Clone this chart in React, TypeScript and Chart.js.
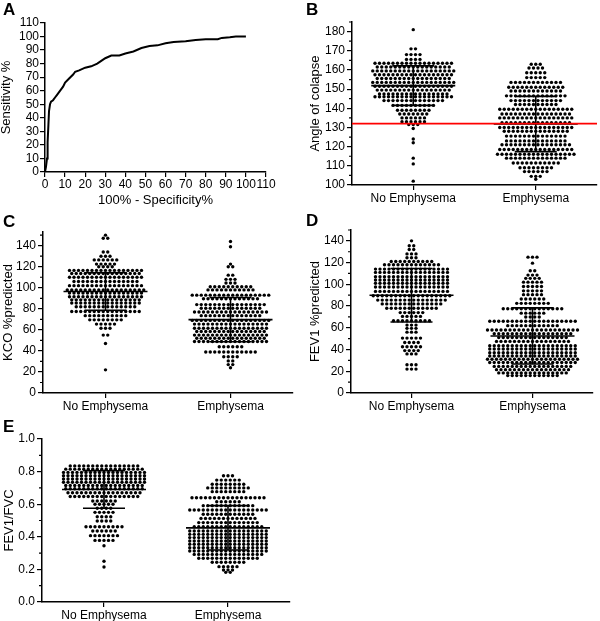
import React, { useEffect, useRef } from 'react';
import { Chart, registerables } from 'chart.js';
Chart.register(...registerables);

const FONT = "'Liberation Sans', Arial, Helvetica, sans-serif";

// ---------- Panel A: ROC curve ----------
const ROC_X = [0, 0.5, 1, 1.3, 1.7, 2, 2.5, 3, 4, 5, 6, 7, 8, 9, 10, 12, 14, 15, 17, 20, 23, 26, 28, 30, 33, 37, 40, 44, 48, 52, 56, 60, 64, 70, 75, 80, 86, 88, 92, 95, 100];
const ROC_Y = [0, 4, 10, 22, 35, 45, 50, 52, 53, 55, 57, 59, 61, 63, 66, 69, 72, 74, 75, 77, 78, 80, 82, 84, 86, 86, 87.5, 89, 91.5, 93, 93.5, 95, 96, 96.5, 97.5, 98, 98, 99, 99.5, 100, 100];
const ROC_TICKS = [0, 10, 20, 30, 40, 50, 60, 70, 80, 90, 100, 110];

// ---------- Categories ----------
const GROUPS = ['No Emphysema', 'Emphysema'];
const CAT_POS = [1, 3];

// ---------- Panel B: Angle of collapse ----------
const B_NO_VALUES = [181, 171, 168, 165.5, 163.5, 161.5, 159.5, 157.5, 155.5, 153.5, 151.5, 149.5, 147.5, 146, 144, 141.5, 139, 137, 135, 133, 131.5, 129.5, 124, 122, 114, 111, 102];
const B_NO_COUNTS = [1, 2, 4, 4, 18, 17, 19, 18, 17, 19, 18, 17, 16, 18, 14, 10, 8, 7, 6, 6, 3, 1, 1, 1, 1, 1, 1];
const B_EMPH_VALUES = [163, 161, 158.5, 156, 153.5, 151, 149, 146.5, 144, 142, 139.5, 137, 135, 132.5, 130, 128, 125.5, 123, 121, 118.5, 116, 114, 111.5, 109, 107, 104.5, 103];
const B_EMPH_COUNTS = [3, 4, 5, 5, 12, 13, 12, 14, 12, 10, 17, 16, 17, 16, 17, 15, 14, 14, 16, 17, 18, 14, 11, 8, 6, 3, 1];
const B_MEANS = [151.8, 131.8];
const B_SDS = [10.3, 14.4];
const B_CUTOFF = 132;
const B_TICKS = [100, 110, 120, 130, 140, 150, 160, 170, 180];

// ---------- Panel C: KCO %predicted ----------
const C_NO_VALUES = [150, 147, 134, 130, 126.5, 122.5, 120, 116.5, 113.5, 110, 106, 102, 98, 95, 91.5, 88.5, 85.5, 82, 77.5, 73.5, 69.5, 65.5, 61.5, 55, 47, 22];
const C_NO_COUNTS = [1, 2, 2, 3, 6, 5, 4, 17, 16, 17, 15, 17, 18, 17, 17, 16, 16, 14, 16, 10, 8, 5, 3, 2, 1, 1];
const C_EMPH_VALUES = [144, 139, 122.5, 120, 112, 108, 104.5, 101, 98, 93, 89.5, 84, 80.5, 77, 73.5, 69, 65.5, 61.5, 58.5, 55, 52, 49, 44, 39, 34.5, 30.5, 27, 24];
const C_EMPH_COUNTS = [1, 1, 1, 2, 2, 3, 3, 10, 11, 18, 13, 16, 14, 17, 14, 18, 17, 17, 16, 17, 16, 17, 6, 12, 4, 2, 2, 1];
const C_MEANS = [96.5, 69.7];
const C_SDS = [17.8, 21];
const C_TICKS = [0, 20, 40, 60, 80, 100, 120, 140];

// ---------- Panel D: FEV1 %predicted ----------
const D_NO_VALUES = [140, 135.5, 132, 128, 124.5, 121, 118, 114, 111, 107, 104, 101, 97.5, 93.5, 89.5, 85.5, 82, 78, 74, 70.5, 66.5, 62.5, 59.5, 56, 50.5, 46.5, 42.5, 39, 36, 26, 22];
const D_NO_COUNTS = [1, 2, 2, 3, 3, 10, 13, 17, 17, 17, 17, 17, 17, 17, 18, 16, 14, 12, 6, 5, 9, 3, 3, 3, 5, 4, 5, 4, 3, 3, 3];
const D_EMPH_VALUES = [125, 119.5, 112.5, 108.5, 105.5, 102, 98, 94, 90.5, 86.5, 82.5, 77.5, 73.5, 70, 66, 62, 58, 54.5, 51, 47.5, 43.5, 40.5, 37, 34, 31, 28, 24.5, 21.5, 18.5, 16];
const D_EMPH_COUNTS = [3, 1, 2, 3, 4, 5, 5, 5, 5, 6, 8, 14, 6, 4, 20, 12, 21, 18, 16, 17, 20, 20, 20, 20, 21, 20, 18, 17, 16, 12];
const D_MEANS = [90, 52.5];
const D_SDS = [24.6, 25.8];
const D_TICKS = [0, 20, 40, 60, 80, 100, 120, 140];

// ---------- Panel E: FEV1/FVC ----------
const E_NO_VALUES = [0.835, 0.815, 0.795, 0.775, 0.755, 0.735, 0.715, 0.695, 0.67, 0.647, 0.62, 0.6, 0.575, 0.55, 0.523, 0.497, 0.462, 0.436, 0.407, 0.378, 0.345, 0.25, 0.215];
const E_NO_COUNTS = [16, 18, 19, 19, 19, 19, 18, 18, 17, 16, 6, 5, 4, 5, 4, 4, 9, 6, 7, 5, 1, 1, 1];
const E_EMPH_VALUES = [0.775, 0.748, 0.722, 0.7, 0.677, 0.64, 0.615, 0.591, 0.564, 0.538, 0.513, 0.487, 0.462, 0.436, 0.415, 0.395, 0.374, 0.354, 0.333, 0.313, 0.292, 0.268, 0.244, 0.217, 0.196, 0.182];
const E_EMPH_COUNTS = [3, 6, 8, 10, 8, 17, 6, 12, 18, 12, 13, 14, 16, 18, 18, 18, 18, 18, 18, 18, 16, 14, 8, 5, 3, 2];
const E_MEANS = [0.69, 0.455];
const E_SDS = [0.115, 0.136];
const E_TICKS = [0, 0.2, 0.4, 0.6, 0.8, 1.0];

// ---------- Styling constants ----------
const DOT_R = 1.7;
const DOT_STEP = 4.5; // px between neighbouring dots in a row
const MEAN_HALF = 42; // px
const CAP_HALF = 21; // px
const X_MIN = 0;
const X_MAX = 4;

const minorTickPlugin = {
  id: 'minorTicks',
  afterDraw(chart: any, _args: any, opts: any) {
    const step = opts && opts.step;
    if (!step) return;
    const ys = chart.scales.y;
    const ctx = chart.ctx;
    const x0 = chart.chartArea.left;
    ctx.save();
    ctx.strokeStyle = '#000';
    ctx.lineWidth = 1.2;
    ctx.beginPath();
    for (let i = 0; ; i++) {
      const v = ys.min + step * (1 + 2 * i);
      if (v > ys.max + 1e-9) break;
      const py = ys.getPixelForValue(v);
      ctx.moveTo(x0 - 3, py);
      ctx.lineTo(x0, py);
    }
    ctx.stroke();
    ctx.restore();
  },
};

const tickFont = { family: FONT, size: 12 };
const titleFont = { family: FONT, size: 13 };
const gridOpts = { display: true, drawOnChartArea: false, drawTicks: true, tickLength: 5, color: '#000', lineWidth: 1.2 };
const borderOpts = { display: true, color: '#000', width: 1.5 };

interface SwarmProps {
  left: number; top: number; width: number; height: number;
  padTop: number; padRight: number; yWidth: number; xHeight: number;
  yMin: number; yMax: number; yTicks: number[]; minorStep: number; decimals: number;
  yTitle: string; titleX: number;
  groups: { values: number[]; counts: number[] }[];
  means: number[]; sds: number[]; cutoff?: number;
}

function SwarmPanel(p: SwarmProps) {
  const ref = useRef<HTMLCanvasElement>(null);
  useEffect(() => {
    const canvas = ref.current!;
    const datasets: any[] = [];
    p.groups.forEach(() =>
      datasets.push({ data: [], pointRadius: DOT_R, pointHoverRadius: DOT_R, pointBackgroundColor: '#000', backgroundColor: '#000', pointBorderWidth: 0, borderWidth: 0, showLine: false, order: 3 })
    );
    const lineDs = (color: string, width: number, order: number) => ({ data: [], showLine: true, borderColor: color, backgroundColor: color, borderWidth: width, pointRadius: 0, order, fill: false });
    p.groups.forEach(() => { for (let i = 0; i < 4; i++) datasets.push(lineDs('#000', 1.6, 2)); });
    if (p.cutoff !== undefined) datasets.push(lineDs('#ff0000', 1.6, 1));

    const chart = new Chart(canvas, {
      type: 'scatter',
      data: { datasets },
      options: {
        responsive: false,
        animation: false,
        events: [],
        layout: { padding: { top: p.padTop, right: p.padRight, left: 0, bottom: 0 } },
        plugins: { legend: { display: false }, tooltip: { enabled: false }, minorTicks: { step: p.minorStep } } as any,
        scales: {
          x: {
            type: 'linear', min: X_MIN, max: X_MAX,
            afterFit: (s: any) => { s.height = p.xHeight; },
            afterBuildTicks: (s: any) => { s.ticks = CAT_POS.map((v) => ({ value: v })); },
            ticks: { callback: (v: any) => GROUPS[CAT_POS.indexOf(Number(v))] ?? '', color: '#000', font: tickFont, padding: 1, maxRotation: 0, autoSkip: false },
            grid: gridOpts, border: borderOpts,
          },
          y: {
            type: 'linear', min: p.yMin, max: p.yMax,
            afterFit: (s: any) => { s.width = p.yWidth; },
            afterBuildTicks: (s: any) => { s.ticks = p.yTicks.map((v) => ({ value: v })); },
            ticks: { callback: (v: any) => Number(v).toFixed(p.decimals), color: '#000', font: tickFont, padding: 2, autoSkip: false },
            grid: gridOpts, border: borderOpts,
            title: { display: true, text: p.yTitle, color: '#000', font: titleFont, padding: { top: p.titleX - 7.8, bottom: 0 } },
          },
        },
      } as any,
      plugins: [minorTickPlugin],
    });

    const area = chart.chartArea;
    const upp = (X_MAX - X_MIN) / (area.right - area.left);
    p.groups.forEach((g, gi) => {
      const cx = CAT_POS[gi];
      const pts: { x: number; y: number }[] = [];
      g.values.forEach((v, ri) => {
        const n = g.counts[ri];
        for (let k = 0; k < n; k++) pts.push({ x: cx + (k - (n - 1) / 2) * DOT_STEP * upp, y: v });
      });
      (chart.data.datasets[gi] as any).data = pts;
    });
    let li = p.groups.length;
    p.groups.forEach((_g, gi) => {
      const cx = CAT_POS[gi];
      const m = p.means[gi];
      const s = p.sds[gi];
      const mw = MEAN_HALF * upp;
      const cw = CAP_HALF * upp;
      (chart.data.datasets[li++] as any).data = [{ x: cx - mw, y: m }, { x: cx + mw, y: m }];
      (chart.data.datasets[li++] as any).data = [{ x: cx - cw, y: m + s }, { x: cx + cw, y: m + s }];
      (chart.data.datasets[li++] as any).data = [{ x: cx - cw, y: m - s }, { x: cx + cw, y: m - s }];
      (chart.data.datasets[li++] as any).data = [{ x: cx, y: m - s }, { x: cx, y: m + s }];
    });
    if (p.cutoff !== undefined) {
      (chart.data.datasets[li] as any).data = [{ x: X_MIN, y: p.cutoff }, { x: X_MAX, y: p.cutoff }];
    }
    chart.update();
    return () => chart.destroy();
  }, []);
  return (
    <canvas ref={ref} width={p.width} height={p.height}
      style={{ position: 'absolute', left: p.left, top: p.top, width: p.width, height: p.height }} />
  );
}

function RocPanel() {
  const ref = useRef<HTMLCanvasElement>(null);
  useEffect(() => {
    const chart = new Chart(ref.current!, {
      type: 'scatter',
      data: {
        datasets: [{
          data: ROC_X.map((x, i) => ({ x, y: ROC_Y[i] })),
          showLine: true, borderColor: '#000', borderWidth: 2, pointRadius: 0, fill: false, tension: 0,
        }],
      },
      options: {
        responsive: false,
        animation: false,
        events: [],
        layout: { padding: { top: 23, right: 34, left: 0, bottom: 0 } },
        plugins: { legend: { display: false }, tooltip: { enabled: false } },
        scales: {
          x: {
            type: 'linear', min: 0, max: 110,
            afterFit: (s: any) => { s.height = 38; },
            afterBuildTicks: (s: any) => { s.ticks = ROC_TICKS.map((v) => ({ value: v })); },
            ticks: { color: '#000', font: tickFont, padding: 0, maxRotation: 0, autoSkip: false },
            grid: gridOpts, border: borderOpts,
            title: { display: true, text: '100% - Specificity%', color: '#000', font: titleFont, padding: { top: 0, bottom: 2 } },
          },
          y: {
            type: 'linear', min: 0, max: 110,
            afterFit: (s: any) => { s.width = 45; },
            afterBuildTicks: (s: any) => { s.ticks = ROC_TICKS.map((v) => ({ value: v })); },
            ticks: { color: '#000', font: tickFont, padding: 1, autoSkip: false },
            grid: gridOpts, border: borderOpts,
            title: { display: true, text: 'Sensitivity %', color: '#000', font: titleFont, padding: { top: -1.5, bottom: 0 } },
          },
        },
      } as any,
    });
    return () => chart.destroy();
  }, []);
  return <canvas ref={ref} width={300} height={210} style={{ position: 'absolute', left: 0, top: 0, width: 300, height: 210 }} />;
}

const letterStyle = (left: number, top: number): React.CSSProperties => ({
  position: 'absolute', left, top, fontFamily: FONT, fontWeight: 'bold', fontSize: 17, lineHeight: '17px', color: '#000',
});

export default function App() {
  return (
    <div style={{ position: 'absolute', left: 0, top: 0, width: 600, height: 621, background: '#fff', overflow: 'hidden' }}>
      <RocPanel />
      <SwarmPanel left={300} top={0} width={300} height={210} padTop={22} padRight={3} yWidth={52} xHeight={25}
        yMin={100} yMax={185} yTicks={B_TICKS} minorStep={5} decimals={0} yTitle="Angle of colapse" titleX={15}
        groups={[{ values: B_NO_VALUES, counts: B_NO_COUNTS }, { values: B_EMPH_VALUES, counts: B_EMPH_COUNTS }]}
        means={B_MEANS} sds={B_SDS} cutoff={B_CUTOFF} />
      <SwarmPanel left={0} top={210} width={300} height={205} padTop={22} padRight={7} yWidth={43} xHeight={22}
        yMin={0} yMax={153} yTicks={C_TICKS} minorStep={10} decimals={0} yTitle="KCO %predicted" titleX={8}
        groups={[{ values: C_NO_VALUES, counts: C_NO_COUNTS }, { values: C_EMPH_VALUES, counts: C_EMPH_COUNTS }]}
        means={C_MEANS} sds={C_SDS} />
      <SwarmPanel left={300} top={210} width={300} height={205} padTop={20} padRight={7} yWidth={51} xHeight={22}
        yMin={0} yMax={150} yTicks={D_TICKS} minorStep={10} decimals={0} yTitle="FEV1 %predicted" titleX={15}
        groups={[{ values: D_NO_VALUES, counts: D_NO_COUNTS }, { values: D_EMPH_VALUES, counts: D_EMPH_COUNTS }]}
        means={D_MEANS} sds={D_SDS} />
      <SwarmPanel left={0} top={415} width={300} height={206} padTop={24} padRight={10} yWidth={42} xHeight={19}
        yMin={0} yMax={1} yTicks={E_TICKS} minorStep={0.1} decimals={1} yTitle="FEV1/FVC" titleX={9}
        groups={[{ values: E_NO_VALUES, counts: E_NO_COUNTS }, { values: E_EMPH_VALUES, counts: E_EMPH_COUNTS }]}
        means={E_MEANS} sds={E_SDS} />
      <div style={letterStyle(3, 1)}>A</div>
      <div style={letterStyle(306, 1)}>B</div>
      <div style={letterStyle(3, 213)}>C</div>
      <div style={letterStyle(306, 212)}>D</div>
      <div style={letterStyle(3, 418)}>E</div>
    </div>
  );
}
